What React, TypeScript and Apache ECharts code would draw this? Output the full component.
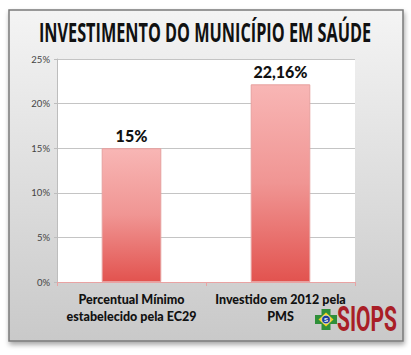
import React, { useEffect, useRef } from "react";
import * as echarts from "echarts";

const titleText = "INVESTIMENTO DO MUNICÍPIO EM SAÚDE";
const categories = ["Percentual Mínimo\nestabelecido pela EC29", "Investido em 2012 pela\nPMS"];
const values = [15, 22.16];
const yMin = 0;
const yMax = 25;
const yInterval = 5;
const logoText = "SIOPS";

function measure(text: string, font: string): number {
  const c = document.createElement("canvas").getContext("2d")!;
  c.font = font;
  return c.measureText(text).width || 1;
}

export default function App() {
  const ref = useRef<HTMLDivElement>(null);
  useEffect(() => {
    const chart = echarts.init(ref.current!, null, { renderer: "svg" });
    const titleFont = 'bold 26px "Open Sans", sans-serif';
    const titleScale = 332 / measure(titleText, titleFont);
    const logoFont = 'bold 36px Roboto, sans-serif';
    const logoScale = 60 / measure(logoText, logoFont);
    chart.setOption({
      animation: false,
      backgroundColor: "#ffffff",
      grid: {
        left: 57,
        top: 59,
        width: 298,
        height: 223,
        show: true,
        backgroundColor: "#ffffff",
        borderWidth: 0,
      },
      xAxis: {
        type: "category",
        data: categories,
        axisLine: { lineStyle: { color: "#e9a3a3", width: 1 } },
        axisTick: { show: true, length: 4, lineStyle: { color: "#e9a3a3" } },
        axisLabel: {
          margin: 9,
          fontFamily: "Lato, sans-serif",
          fontWeight: 900,
          fontSize: 12.5,
          lineHeight: 17,
          color: "#111",
          interval: 0,
        },
      },
      yAxis: {
        type: "value",
        min: yMin,
        max: yMax,
        interval: yInterval,
        axisLine: { show: true, lineStyle: { color: "#bdbdbd" } },
        axisTick: { show: true, length: 3, lineStyle: { color: "#bdbdbd" } },
        splitLine: { lineStyle: { color: "#c4c4c4" } },
        axisLabel: {
          formatter: "{value}%",
          fontFamily: "Lato, sans-serif",
          fontSize: 9.5,
          color: "#444",
          margin: 7,
        },
      },
      series: [
        {
          type: "bar",
          data: values,
          barWidth: "40%",
          itemStyle: {
            color: new echarts.graphic.LinearGradient(0, 0, 0, 1, [
              { offset: 0, color: "#f8b6b5" },
              { offset: 0.5, color: "#f09593" },
              { offset: 1, color: "#e2534f" },
            ]),
            borderColor: "#e6a09f",
            borderWidth: 1,
          },
          label: {
            show: true,
            position: "top",
            distance: 5,
            fontFamily: "Lato, sans-serif",
            fontWeight: 900,
            fontSize: 16,
            color: "#111",
            formatter: (p: any) => String(p.value).replace(".", ",") + "%",
          },
        },
      ],
      graphic: [
        {
          type: "rect",
          z: -10,
          silent: true,
          shape: { x: 9, y: 10, width: 394, height: 331 },
          style: {
            fill: new echarts.graphic.LinearGradient(0, 0, 0, 1, [
              { offset: 0, color: "#f4f4f4" },
              { offset: 1, color: "#c9c9c9" },
            ]),
            stroke: "#7a7a7a",
            lineWidth: 1.5,
            shadowBlur: 5,
            shadowOffsetX: 1,
            shadowOffsetY: 3,
            shadowColor: "rgba(0,0,0,0.35)",
          },
        },
        {
          type: "text",
          x: 205,
          y: 32,
          scaleX: titleScale,
          silent: true,
          style: {
            text: titleText,
            fill: "#111",
            font: titleFont,
            align: "center",
            verticalAlign: "middle",
          },
        },
        {
          type: "group",
          x: 315,
          y: 309,
          children: [
            { type: "rect", shape: { x: 0, y: 6, width: 22, height: 9 }, style: { fill: "#2f8f3a" } },
            { type: "rect", shape: { x: 6.5, y: 0, width: 9, height: 21 }, style: { fill: "#2f8f3a" } },
            {
              type: "polygon",
              shape: { points: [[11, 3.5], [18.5, 10.5], [11, 17.5], [3.5, 10.5]] },
              style: { fill: "#f2d21b" },
            },
            { type: "circle", shape: { cx: 11, cy: 10.5, r: 4.3 }, style: { fill: "#1f3f9a", stroke: "#fff", lineWidth: 0.6 } },
            {
              type: "text",
              x: 11,
              y: 10.5,
              style: { text: "S", fill: "#fff", font: "bold 6px sans-serif", align: "center", verticalAlign: "middle" },
            },
          ],
        },
        {
          type: "text",
          x: 337,
          y: 319,
          scaleX: logoScale,
          style: {
            text: logoText,
            fill: "#a91e27",
            font: logoFont,
            align: "left",
            verticalAlign: "middle",
          },
        },
      ],
    });
    return () => chart.dispose();
  }, []);
  return <div ref={ref} style={{ position: "fixed", left: 0, top: 0, width: 411, height: 355 }} />;
}
